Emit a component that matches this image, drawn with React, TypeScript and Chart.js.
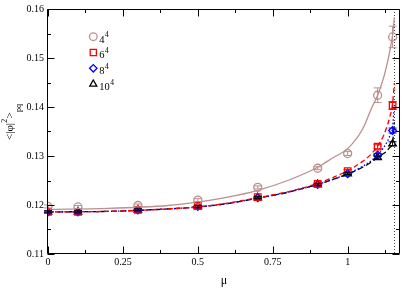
import React, { useEffect, useRef } from 'react';
import { Chart, registerables } from 'chart.js';

Chart.register(...registerables);

const FONT = '"Liberation Serif", "Times New Roman", serif';

// measured points
const muValues = [0, 0.1, 0.3, 0.5, 0.7, 0.9, 1.0, 1.1, 1.15];
const phi4 = [0.1197, 0.1196, 0.1199, 0.121, 0.1236, 0.1275, 0.1305, 0.1424, 0.1543];
const err4 = [0.0003, 0.0003, 0.0003, 0.0003, 0.0003, 0.0003, 0.0004, 0.0015, 0.0022];
const phi6 = [0.1186, 0.1186, 0.119, 0.1198, 0.1216, 0.1243, 0.1269, 0.1319, 0.1403];
const err6 = [0.0002, 0.0002, 0.0002, 0.0002, 0.0002, 0.0002, 0.0003, 0.0004, 0.0008];
const phi8 = [0.1186, 0.1186, 0.119, 0.1197, 0.1215, 0.1242, 0.1264, 0.1302, 0.1352];
const err8 = [0.0002, 0.0002, 0.0002, 0.0002, 0.0002, 0.0002, 0.0002, 0.0003, 0.0005];
const phi10 = [0.1186, 0.1186, 0.119, 0.1197, 0.1215, 0.1242, 0.1264, 0.1297, 0.1325];
const err10 = [0.0002, 0.0002, 0.0002, 0.0002, 0.0002, 0.0002, 0.0002, 0.0003, 0.0004];

// fitted curves
const muFit = [0, 0.2, 0.4, 0.5, 0.6, 0.7, 0.8, 0.9, 0.95, 1.0, 1.05, 1.08, 1.1, 1.12, 1.13, 1.14, 1.15, 1.156];
const fit4 = [0.1191, 0.1193, 0.1199, 0.1206, 0.1216, 0.123, 0.125, 0.1277, 0.1296, 0.1315, 0.1355, 0.1398, 0.1424, 0.146, 0.1484, 0.1512, 0.1548, 0.1583];
const fit6 = [0.1186, 0.1187, 0.1192, 0.1196, 0.1204, 0.1215, 0.1227, 0.1244, 0.1256, 0.127, 0.1289, 0.1305, 0.132, 0.1342, 0.1358, 0.1378, 0.1408, 0.1449];
const fit8 = [0.1186, 0.1187, 0.1192, 0.1196, 0.1203, 0.1214, 0.1226, 0.1242, 0.1252, 0.1264, 0.1279, 0.1291, 0.1302, 0.1317, 0.1327, 0.134, 0.136, 0.1405];
const fit10 = [0.1186, 0.1187, 0.1192, 0.1196, 0.1203, 0.1214, 0.1226, 0.1242, 0.1252, 0.1263, 0.1277, 0.1288, 0.1297, 0.1305, 0.131, 0.1317, 0.1328, 0.1369];

const muCritical = 1.156;

const xMin = 0;
const xMax = 1.175;
const yMin = 0.11;
const yMax = 0.16;
const xMajorTicks = [0, 0.25, 0.5, 0.75, 1];
const xTickLabels = ['0', '0.25', '0.5', '0.75', '1'];
const xMinorTicks = [0.125, 0.375, 0.625, 0.875, 1.125];
const yMajorTicks = [0.11, 0.12, 0.13, 0.14, 0.15, 0.16];
const yTickLabels = ['0.11', '0.12', '0.13', '0.14', '0.15', '0.16'];
const yMinorTicks = [0.115, 0.125, 0.135, 0.145, 0.155];

const seriesBase = ['4', '6', '8', '10'];
const seriesExp = ['4', '4', '4', '4'];
const seriesColors = ['#BC8F8F', '#FF0000', '#0000FF', '#000000'];
const seriesStyles = ['circle', 'rect', 'rectRot', 'triangle'];
const seriesRadius = [4, 4.6, 3.9, 4.3];
const seriesVals = [phi4, phi6, phi8, phi10];
const seriesErrs = [err4, err6, err8, err10];
const fitVals = [fit4, fit6, fit8, fit10];
const fitDash = [[], [5, 3], [1.5, 2], [6, 3]];

function drawMarker(ctx: CanvasRenderingContext2D, style: string, x: number, y: number, r: number) {
  ctx.beginPath();
  if (style === 'circle') {
    ctx.arc(x, y, r, 0, Math.PI * 2);
  } else if (style === 'rect') {
    const s = Math.SQRT1_2 * r;
    ctx.rect(x - s, y - s, 2 * s, 2 * s);
  } else if (style === 'rectRot') {
    ctx.moveTo(x - r, y);
    ctx.lineTo(x, y - r);
    ctx.lineTo(x + r, y);
    ctx.lineTo(x, y + r);
    ctx.closePath();
  } else {
    const a = (2 * Math.PI) / 3;
    ctx.moveTo(x, y - r);
    ctx.lineTo(x + Math.sin(a) * r, y - Math.cos(a) * r);
    ctx.lineTo(x + Math.sin(2 * a) * r, y - Math.cos(2 * a) * r);
    ctx.closePath();
  }
  ctx.stroke();
}

const decorPlugin = {
  id: 'decor',
  beforeDatasetsDraw(chart: any) {
    const { ctx, chartArea: a, scales } = chart;
    const px = Math.round(scales.x.getPixelForValue(muCritical)) + 0.5;
    ctx.save();
    ctx.strokeStyle = '#444';
    ctx.lineWidth = 1;
    ctx.setLineDash([1, 2]);
    ctx.beginPath();
    ctx.moveTo(px, a.top);
    ctx.lineTo(px, a.bottom);
    ctx.stroke();
    ctx.restore();
  },
  afterDatasetsDraw(chart: any) {
    const { ctx, scales } = chart;
    ctx.save();
    ctx.lineWidth = 1;
    seriesVals.forEach((vals, s) => {
      ctx.strokeStyle = seriesColors[s];
      vals.forEach((v, i) => {
        const e = seriesErrs[s][i];
        const x = scales.x.getPixelForValue(muValues[i]);
        const y1 = scales.y.getPixelForValue(v + e);
        const y2 = scales.y.getPixelForValue(v - e);
        ctx.beginPath();
        ctx.moveTo(x, y1);
        ctx.lineTo(x, y2);
        ctx.moveTo(x - 4, y1);
        ctx.lineTo(x + 4, y1);
        ctx.moveTo(x - 4, y2);
        ctx.lineTo(x + 4, y2);
        ctx.stroke();
      });
    });
    ctx.restore();
  },
  afterDraw(chart: any) {
    const { ctx, chartArea: a, scales } = chart;
    const L = Math.round(a.left) - 0.5;
    const R = Math.round(a.right) - 0.5;
    const T = Math.round(a.top) + 0.5;
    const B = Math.round(a.bottom) - 0.5;
    ctx.save();
    ctx.strokeStyle = '#000';
    ctx.lineWidth = 1;
    ctx.beginPath();
    ctx.rect(L, T, R - L, B - T);
    ctx.stroke();
    // ticks on all sides, pointing inward
    ctx.beginPath();
    const xt = (vals: number[], len: number) => {
      vals.forEach((v) => {
        const px = Math.round(scales.x.getPixelForValue(v)) + 0.5;
        ctx.moveTo(px, B);
        ctx.lineTo(px, B - len);
        ctx.moveTo(px, T);
        ctx.lineTo(px, T + len);
      });
    };
    const yt = (vals: number[], len: number) => {
      vals.forEach((v) => {
        const py = Math.round(scales.y.getPixelForValue(v)) + 0.5;
        ctx.moveTo(L, py);
        ctx.lineTo(L + len, py);
        ctx.moveTo(R, py);
        ctx.lineTo(R - len, py);
      });
    };
    xt(xMajorTicks, 7);
    xt(xMinorTicks, 3.5);
    yt(yMajorTicks, 7);
    yt(yMinorTicks, 3.5);
    ctx.stroke();

    // legend
    const lx = a.left + 45.3;
    const ly = a.top + 27.7;
    ctx.lineWidth = 1.3;
    seriesBase.forEach((b, i) => {
      const y = ly + i * 15.8;
      ctx.strokeStyle = seriesColors[i];
      drawMarker(ctx, seriesStyles[i], lx, y, seriesRadius[i] * 0.95);
      ctx.fillStyle = '#000';
      ctx.textAlign = 'left';
      ctx.textBaseline = 'alphabetic';
      ctx.font = `10.5px ${FONT}`;
      const tx = lx + 6;
      ctx.fillText(b, tx, y + 5.8);
      const w = ctx.measureText(b).width;
      ctx.font = `7.5px ${FONT}`;
      ctx.fillText(seriesExp[i], tx + w + 0.5, y + 0.5);
    });

    // x title
    ctx.fillStyle = '#000';
    ctx.font = `12px ${FONT}`;
    ctx.textAlign = 'center';
    ctx.textBaseline = 'alphabetic';
    ctx.fillText('μ', (a.left + a.right) / 2, 283.5);

    // y title
    ctx.translate(10, 140);
    ctx.rotate(-Math.PI / 2);
    ctx.textAlign = 'left';
    const segs = [
      { t: '<|φ|', size: 11, dy: 0 },
      { t: '2', size: 8, dy: -6 },
      { t: '>', size: 11, dy: 0 },
      { t: 'pq', size: 8, dy: 8 },
    ];
    let cx = 0;
    segs.forEach((sg) => {
      ctx.font = `${sg.size}px ${FONT}`;
      ctx.fillText(sg.t, cx, 2.5 + sg.dy);
      cx += ctx.measureText(sg.t).width + 0.3;
    });
    ctx.restore();
  },
};

export default function App() {
  const ref = useRef<HTMLCanvasElement | null>(null);
  useEffect(() => {
    if (!ref.current) return;
    const pointSets = seriesVals.map((vals, s) => ({
      label: seriesBase[s] + '^' + seriesExp[s],
      data: vals.map((v, i) => ({ x: muValues[i], y: v })),
      showLine: false,
      pointStyle: seriesStyles[s],
      pointRadius: seriesRadius[s],
      pointBorderColor: seriesColors[s],
      pointBackgroundColor: 'rgba(0,0,0,0)',
      pointBorderWidth: 1.3,
      borderColor: seriesColors[s],
    }));
    const fitSets = fitVals.map((vals, s) => ({
      label: 'fit ' + seriesBase[s],
      data: vals.map((v, i) => ({ x: muFit[i], y: v })),
      showLine: true,
      pointRadius: 0,
      borderColor: seriesColors[s],
      borderWidth: 1.3,
      borderDash: fitDash[s],
      cubicInterpolationMode: 'monotone',
      fill: false,
    }));
    const chart = new Chart(ref.current, {
      type: 'scatter',
      data: { datasets: [...pointSets, ...fitSets] as any },
      options: {
        animation: false,
        responsive: false,
        devicePixelRatio: 1,
        layout: { padding: { top: 5, right: 1, left: 0, bottom: 0 } },
        plugins: { legend: { display: false }, tooltip: { enabled: false } },
        scales: {
          x: {
            type: 'linear',
            min: xMin,
            max: xMax,
            afterFit: (s: any) => {
              s.height = 35;
            },
            afterBuildTicks: (s: any) => {
              s.ticks = xMajorTicks.map((v) => ({ value: v }));
            },
            grid: { display: false, drawTicks: false },
            border: { display: false },
            ticks: {
              autoSkip: false,
              maxRotation: 0,
              padding: 3,
              color: '#000',
              font: { family: FONT, size: 10, lineHeight: 1 },
              callback: (_v: any, i: number) => xTickLabels[i],
            },
          },
          y: {
            type: 'linear',
            min: yMin,
            max: yMax,
            afterFit: (s: any) => {
              s.width = 48;
            },
            afterBuildTicks: (s: any) => {
              s.ticks = yMajorTicks.map((v) => ({ value: v }));
            },
            grid: { display: false, drawTicks: false },
            border: { display: false },
            ticks: {
              autoSkip: false,
              padding: 4,
              color: '#000',
              font: { family: FONT, size: 10, lineHeight: 1 },
              callback: (_v: any, i: number) => yTickLabels[i],
            },
          },
        },
      } as any,
      plugins: [decorPlugin],
    });
    return () => chart.destroy();
  }, []);
  return (
    <div style={{ position: 'absolute', left: 0, top: 0, width: 406, height: 289, background: '#fff' }}>
      <canvas ref={ref} width={406} height={289} />
    </div>
  );
}
